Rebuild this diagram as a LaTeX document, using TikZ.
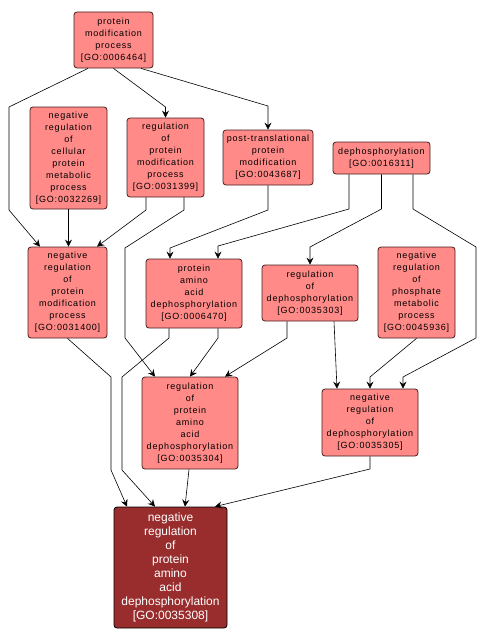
\documentclass[tikz,border=0pt]{standalone}
\usepackage{fontspec}
\setmainfont{Liberation Sans}
\newfontfamily\lsfont[LetterSpace=9]{Liberation Sans}
\usetikzlibrary{arrows.meta}
\definecolor{nodefill}{RGB}{255,138,136}
\definecolor{nodeborder}{RGB}{70,30,30}
\definecolor{targetfill}{RGB}{153,44,44}
\tikzset{
  go/.style={draw=nodeborder, fill=nodefill, rounded corners=3pt, line width=0.8pt,
    align=center, inner sep=0pt, font=\lsfont\fontsize{9}{12}\selectfont},
  target/.style={draw=black, fill=targetfill, rounded corners=3pt, line width=0.8pt,
    align=center, inner sep=0pt, text=white, font=\fontsize{12}{14}\selectfont},
  edge/.style={draw=black, line width=0.6pt, -{Stealth[length=7pt,width=7pt,inset=2.5pt]}},
}
\begin{document}
\begin{tikzpicture}[x=1pt,y=-1pt]
\useasboundingbox (0,0) rectangle (486,642);
\node[go, minimum width=79, minimum height=56] (A) at (113.5,40) {protein\\modification\\process\\{[}GO:0006464{]}};
\node[go, minimum width=77, minimum height=102] (B) at (68.5,158) {negative\\regulation\\of\\cellular\\protein\\metabolic\\process\\{[}GO:0032269{]}};
\node[go, minimum width=77, minimum height=79] (C) at (165.5,157.5) {regulation\\of\\protein\\modification\\process\\{[}GO:0031399{]}};
\node[go, minimum width=90, minimum height=55] (D) at (268,157.5) {post-translational\\protein\\modification\\{[}GO:0043687{]}};
\node[go, minimum width=97, minimum height=32] (E) at (381.5,158) {dephosphorylation\\{[}GO:0016311{]}};
\node[go, minimum width=79, minimum height=91] (F) at (67.5,292.5) {negative\\regulation\\of\\protein\\modification\\process\\{[}GO:0031400{]}};
\node[go, minimum width=96, minimum height=69] (G) at (194,293.5) {protein\\amino\\acid\\dephosphorylation\\{[}GO:0006470{]}};
\node[go, minimum width=96, minimum height=56] (H) at (310,293) {regulation\\of\\dephosphorylation\\{[}GO:0035303{]}};
\node[go, minimum width=77, minimum height=91] (I) at (416.5,292.5) {negative\\regulation\\of\\phosphate\\metabolic\\process\\{[}GO:0045936{]}};
\node[go, minimum width=96, minimum height=92] (J) at (190,423) {regulation\\of\\protein\\amino\\acid\\dephosphorylation\\{[}GO:0035304{]}};
\node[go, minimum width=96, minimum height=67] (K) at (370,422.5) {negative\\regulation\\of\\dephosphorylation\\{[}GO:0035305{]}};
\node[target, minimum width=113, minimum height=121] (L) at (170.5,567.5) {negative\\regulation\\of\\protein\\amino\\acid\\dephosphorylation\\{[}GO:0035308{]}};
% edges
\draw[edge] ([xshift=-25.5pt]A.south) -- (9,107) -- (9,210) -- ([xshift=-27.5pt]F.north);
\draw[edge] (A.south) -- (165.5,107) -- (C.north);
\draw[edge] ([xshift=27.5pt]A.south) -- (268,106) -- (D.north);
\draw[edge] (B.south) -- (B.south |- F.north);
\draw[edge] ([xshift=-19.5pt]C.south) -- (146,210) -- ([xshift=29.5pt]F.north);
\draw[edge] ([xshift=18.5pt]C.south) -- (184,210) -- (125,248) -- (125,338) -- ([xshift=-35pt]J.north);
\draw[edge] (D.south) -- (268,210) -- (170,248) -- ([xshift=-24pt]G.north);
\draw[edge] ([xshift=-32.5pt]E.south) -- (349,209) -- (218,246) -- ([xshift=24pt]G.north);
\draw[edge] (E.south) -- (381.5,209) -- (310,247) -- (H.north);
\draw[edge] ([xshift=31.5pt]E.south) -- (413,209) -- (476,247) -- (476,338) -- (403,377) -- ([xshift=33pt]K.north);
\draw[edge] (F.south) -- (111,377) -- (111,470) -- ([xshift=-43.5pt]L.north);
\draw[edge] ([xshift=-25pt]G.south) -- (169,338) -- (122,377) -- (122,470) -- ([xshift=-15.5pt]L.north);
\draw[edge] ([xshift=24pt]G.south) -- (218,338) -- (J.north);
\draw[edge] ([xshift=-23pt]H.south) -- (287,338) -- ([xshift=35pt]J.north);
\draw[edge] ([xshift=24pt]H.south) -- ([xshift=-33pt]K.north);
\draw[edge] (I.south) -- (370,377) -- (K.north);
\draw[edge] ([xshift=-1pt]J.south) -- ([xshift=14.5pt]L.north);
\draw[edge] (K.south) -- (370,469) -- ([xshift=44.5pt]L.north);
\end{tikzpicture}
\end{document}
